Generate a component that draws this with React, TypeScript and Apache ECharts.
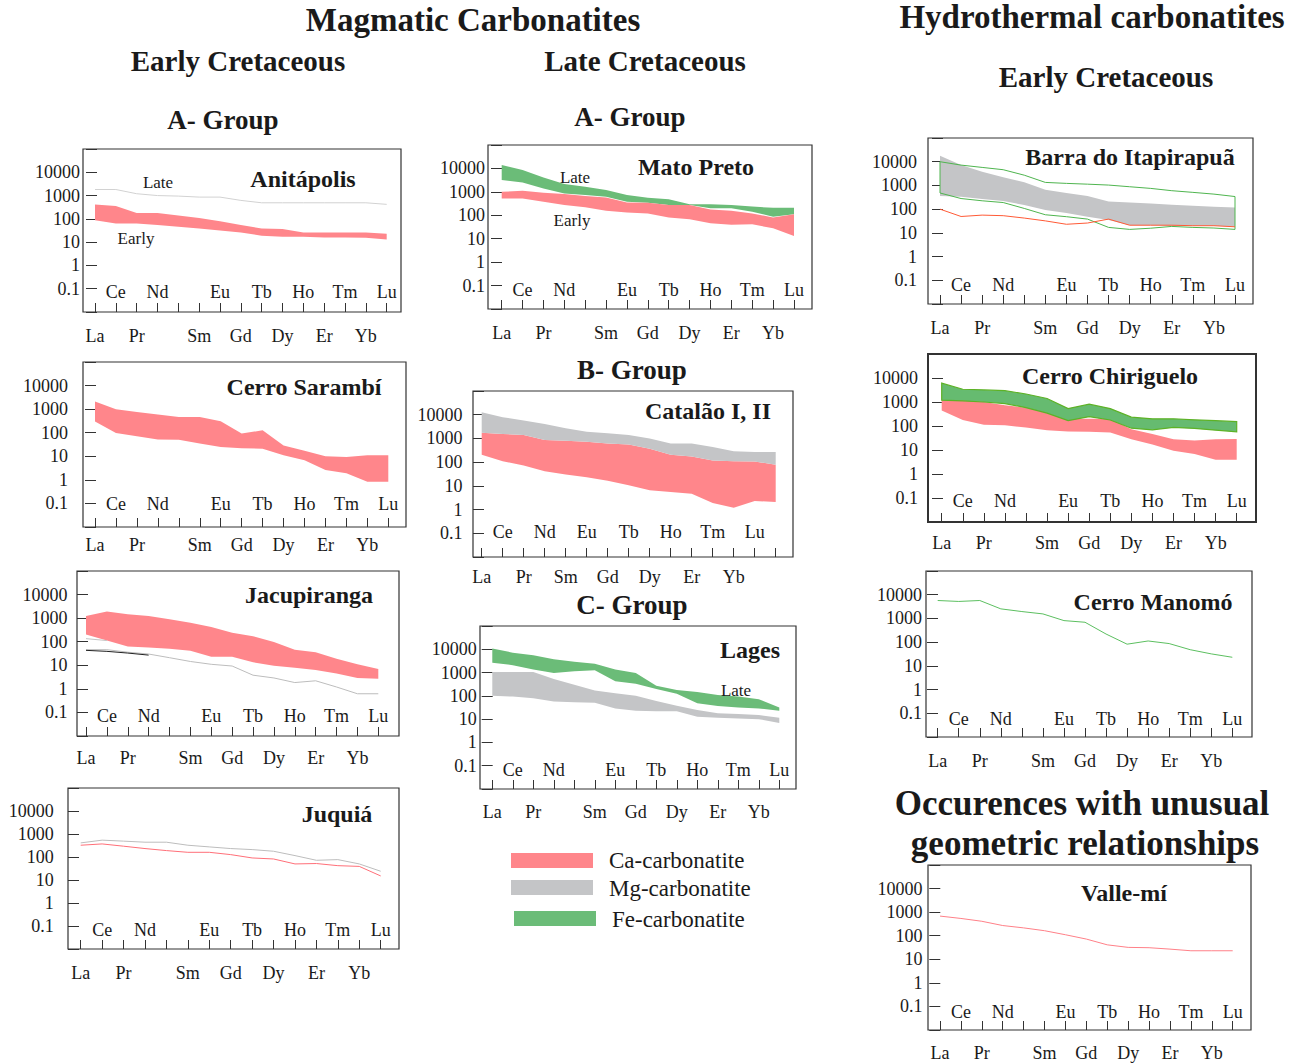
import React, { useEffect, useRef } from 'react';
import * as echarts from 'echarts';

// ---------- categories / tick labels ----------
const REE = ['La', 'Ce', 'Pr', 'Nd', 'Pm', 'Sm', 'Eu', 'Gd', 'Tb', 'Dy', 'Ho', 'Er', 'Tm', 'Yb', 'Lu'];
const REE_CATALAO = ['La', 'Ce', 'Pr', 'Nd', 'Sm', 'Eu', 'Gd', 'Tb', 'Dy', 'Ho', 'Er', 'Tm', 'Yb', 'Lu', ''];
const INNER_STD = ['', 'Ce', '', 'Nd', '', '', 'Eu', '', 'Tb', '', 'Ho', '', 'Tm', '', 'Lu'];
const OUTER_STD = ['La', '', 'Pr', '', '', 'Sm', '', 'Gd', '', 'Dy', '', 'Er', '', 'Yb', ''];
const INNER_CAT = ['', 'Ce', '', 'Nd', '', 'Eu', '', 'Tb', '', 'Ho', '', 'Tm', '', 'Lu', ''];
const OUTER_CAT = ['La', '', 'Pr', '', 'Sm', '', 'Gd', '', 'Dy', '', 'Er', '', 'Yb', '', ''];
const Y_TICK_LABELS = ['0.1', '1', '10', '100', '1000', '10000'];

// ---------- series values (chondrite-normalised) ----------
const ANITAPOLIS_LATE = [1820, 1820, 1200, 1000, 950, 860, 860, 620, 490, 490, 490, 490, 490, 490, 420];
const ANITAPOLIS_CA_HI = [410, 355, 180, 180, 140, 110, 79, 54, 39, 37, 26, 26, 26, 26, 23];
const ANITAPOLIS_CA_LO = [87, 63, 63, 54, 46, 39, 32, 26, 19, 17, 17, 16, 16, 15.5, 13];

const MATO_FE_HI = [13900, 8500, 4150, 2150, 1650, 1200, 730, 560, 480, 295, 295, 275, 235, 210, 210];
const MATO_FE_LO = [3200, 2530, 1400, 860, 730, 620, 380, 345, 275, 275, 200, 200, 140, 87, 110];
const MATO_CA_HI = [1000, 1120, 910, 810, 660, 580, 355, 345, 275, 275, 178, 158, 120, 80, 110];
const MATO_CA_LO = [525, 525, 380, 275, 220, 158, 130, 120, 80, 67, 46, 39, 41, 28, 13];

const BARRA_MG_HI = [17800, 7200, 3800, 2200, 1350, 660, 480, 360, 210, 190, 175, 152, 138, 125, 118];
const BARRA_MG_LO = [360, 330, 270, 220, 150, 93, 68, 48, 35, 21, 21, 20, 20, 20, 18];
const BARRA_FE_HI = [10000, 7200, 5750, 4600, 2700, 1340, 1220, 1130, 1035, 880, 750, 600, 510, 430, 340];
const BARRA_FE_LO = [480, 280, 225, 190, 107, 58, 48, 38, 17, 14, 15.7, 18.7, 17, 16, 14];
const BARRA_CA = [100, 49, 56, 53, 42, 32, 23, 26, 38, 21, 21, 21, 20, 20, 18];

const SARAMBI_CA_HI = [2100, 980, 750, 590, 460, 460, 310, 92, 126, 29, 17, 10, 9.3, 11, 11];
const SARAMBI_CA_LO = [300, 97, 71, 52, 50, 35, 25, 22, 21, 11, 6.8, 2.6, 1.9, 0.83, 0.83];

const CATALAO_MG_HI = [12600, 7900, 5700, 4100, 2700, 1930, 1640, 1390, 1000, 610, 610, 440, 285, 270, 270];
const CATALAO_MG_LO = [1750, 1540, 1390, 850, 800, 720, 610, 550, 370, 205, 175, 118, 110, 107, 77];
const CATALAO_CA_HI = [1750, 1540, 1390, 850, 800, 720, 610, 550, 370, 205, 175, 118, 110, 107, 77];
const CATALAO_CA_LO = [205, 110, 72, 41, 30, 23, 16.5, 10.7, 6.5, 5.5, 4.7, 1.9, 1.2, 2.3, 2.1];

const CHIRIGUELO_FE_HI = [6100, 3400, 3200, 2970, 2150, 1400, 530, 810, 530, 234, 200, 200, 180, 167, 152];
const CHIRIGUELO_FE_LO = [1200, 1120, 1000, 860, 580, 345, 167, 245, 178, 81, 69, 87, 79, 67, 57];
const CHIRIGUELO_CA_HI = [2300, 1200, 1000, 730, 580, 380, 200, 200, 200, 74, 46, 28, 25, 28, 29];
const CHIRIGUELO_CA_LO = [445, 178, 112, 107, 87, 67, 59, 57, 54, 28, 17, 9.4, 6.8, 3.9, 3.9];

const JACUPIRANGA_CA_HI = [1240, 1900, 1470, 1240, 890, 640, 420, 240, 171, 98, 46, 36, 19, 11, 6.9];
const JACUPIRANGA_CA_LO = [200, 112, 63, 57, 50, 41, 23, 23, 13.5, 9.6, 7.9, 6.3, 4.5, 2.9, 2.7];
const JACUPIRANGA_MG_A = [135, 112, null, null, null, null, null, null, null, null, null, null, null, null, null];
const JACUPIRANGA_MG_B = [46, 46, 36, 30, 21, 14.5, 11, 9.3, 3.8, 2.9, 1.85, 2.2, 1.2, 0.62, 0.62];
const JACUPIRANGA_BLACK = [43, 39, 33, 27, null, null, null, null, null, null, null, null, null, null, null];

const LAGES_FE_HI = [10700, 7150, 5500, 3700, 2900, 2380, 1350, 970, 270, 180, 145, 110, 93, 72, 32];
const LAGES_FE_LO = [2630, 2080, 1350, 970, 1150, 1260, 420, 330, 195, 123, 48, 37, 32, 29, 23];
const LAGES_MG_HI = [1070, 1070, 1070, 530, 300, 170, 130, 100, 60, 38, 25, 18, 16.6, 15, 11.4];
const LAGES_MG_LO = [100, 93, 79, 57, 53, 51, 29, 23, 22, 22, 12.6, 11.4, 10.7, 10, 6.9];

const MANOMO_FE = [5700, 5200, 5700, 2530, 1950, 1550, 810, 690, 220, 82, 112, 87, 48, 32, 23];
const JUQUIA_MG = [410, 540, 490, 440, 440, 325, 275, 233, 210, 178, 115, 72, 77, 50, 24];
const JUQUIA_CA = [325, 370, 295, 233, 190, 160, 160, 127, 91, 82, 50, 52, 42, 39, 15];
const VALLEMI_CA = [680, 540, 410, 270, 215, 163, 110, 72, 41, 32, 31, 27, 23, 23, 23];

const LEGEND_ITEMS = ['Ca-carbonatite', 'Mg-carbonatite', 'Fe-carbonatite'];

// ---------- styles ----------
const FONT = "'Liberation Serif', 'Times New Roman', serif";
const CA_FILL = '#FF868B';
const MG_FILL = '#C4C5C7';
const FE_FILL = '#6BBC78';
const TEXT = '#1a1a1a';
const AXIS_FONT = 18;

// panel layout (pixels): box [l,t,r,b], La & Lu tick x, label gaps
const PANELS = [
  { title: 'Anitápolis', tx: 303, ty: 179, box: [83, 149, 401, 312], la: 95, lu: 386.7, inner: 20, outer: 23.7, ts: 3, lg: 3 },
  { title: 'Mato Preto', tx: 696, ty: 167, box: [488, 145, 812, 309], la: 501.7, lu: 794, inner: 18.6, outer: 24, ts: 3, lg: 3 },
  { title: 'Barra do Itapirapuã', tx: 1130, ty: 157, box: [928, 138, 1253, 304], la: 940, lu: 1235, inner: 18.6, outer: 24, ts: 4, lg: 11 },
  { title: 'Cerro Sarambí', tx: 304, ty: 387, box: [83, 362, 406, 527], la: 95, lu: 388.3, inner: 23, outer: 18.3, ts: 2, lg: 15 },
  { title: 'Catalão I, II', tx: 708, ty: 411, box: [473, 391, 793, 557], la: 481.7, lu: 775.7, inner: 25, outer: 20, ts: 0, lg: 10.6, cat: true },
  { title: 'Cerro Chiriguelo', tx: 1110, ty: 376, box: [928, 354, 1256, 522], la: 941.7, lu: 1236.7, inner: 21, outer: 21, ts: 4, lg: 10, thick: true },
  { title: 'Jacupiranga', tx: 309, ty: 595, box: [77, 571, 399, 736], la: 86, lu: 378.3, inner: 20, outer: 21.7, ts: 0, lg: 9.4 },
  { title: 'Lages', tx: 750, ty: 650, box: [480, 626, 796, 789], la: 492.3, lu: 779.3, inner: 18.6, outer: 23.4, ts: 1.7, lg: 3.3 },
  { title: 'Cerro Manomó', tx: 1153, ty: 602, box: [926, 571, 1252, 737], la: 937.7, lu: 1232.3, inner: 18.4, outer: 24, ts: 1, lg: 4 },
  { title: 'Juquiá', tx: 337, ty: 814, box: [68, 788, 399, 949], la: 80.7, lu: 380.7, inner: 18.6, outer: 24, ts: 0, lg: 14.3 },
  { title: 'Valle-mí', tx: 1124, ty: 893, box: [928, 865, 1251, 1030], la: 940, lu: 1232.7, inner: 18.3, outer: 23.3, ts: 1.3, lg: 5.4 },
];

const yFmt = (v: number) => {
  const k = Math.log10(v);
  const r = Math.round(k);
  if (Math.abs(k - r) > 1e-6 || r < -1 || r > 4) return '';
  return Y_TICK_LABELS[r + 1];
};

function bandSeries(panel: number, name: string, lo: number[], hi: number[], fill: string, stroke?: string, lw?: number) {
  const data = lo.map((v, i) => [i, v, hi[i]]);
  return {
    type: 'custom',
    name,
    xAxisIndex: panel * 2,
    yAxisIndex: panel,
    data,
    silent: true,
    itemStyle: { color: fill === 'none' ? stroke : fill },
    encode: { x: 0, y: [1, 2] },
    renderItem: (params: any, api: any) => {
      if (params.dataIndex !== 0) return null;
      const upper = data.map((d) => api.coord([d[0], d[2]]));
      const lower = data.map((d) => api.coord([d[0], d[1]])).reverse();
      return {
        type: 'polygon',
        shape: { points: upper.concat(lower) },
        style: { fill, stroke: stroke || 'none', lineWidth: lw || 0 },
      };
    },
  };
}

function lineSeries(panel: number, name: string, vals: (number | null)[], color: string, width = 1) {
  return {
    type: 'line',
    name,
    xAxisIndex: panel * 2,
    yAxisIndex: panel,
    data: vals,
    symbol: 'none',
    silent: true,
    connectNulls: false,
    lineStyle: { color, width },
    z: 3,
  };
}

function txt(text: string, x: number, y: number, size: number, bold: boolean, align = 'center') {
  return {
    type: 'text',
    x,
    y,
    z: 50,
    silent: true,
    style: {
      text,
      font: `${bold ? 'bold ' : ''}${size}px ${FONT}`,
      fill: TEXT,
      textAlign: align,
      textVerticalAlign: 'middle',
    },
  };
}

function buildOption() {
  const grids: any[] = [];
  const xAxes: any[] = [];
  const yAxes: any[] = [];
  const graphics: any[] = [];

  PANELS.forEach((p, i) => {
    const [l, t, r, b] = p.box;
    const band = (p.lu - p.la) / 14;
    const gl = p.la - band / 2;
    grids.push({ left: gl, top: t, width: band * 15, height: b - t });
    const cats = p.cat ? REE_CATALAO : REE;
    const inner = p.cat ? INNER_CAT : INNER_STD;
    const outer = p.cat ? OUTER_CAT : OUTER_STD;
    const labelBase = { fontSize: AXIS_FONT, fontFamily: FONT, color: TEXT, interval: 0 };
    xAxes.push({
      type: 'category', gridIndex: i, position: 'bottom', data: cats, boundaryGap: true,
      axisLine: { show: false }, splitLine: { show: false },
      axisTick: { show: true, inside: true, alignWithLabel: true, interval: 0, length: 9, lineStyle: { color: '#333', width: 1 } },
      axisLabel: { ...labelBase, show: true, inside: true, margin: p.inner - AXIS_FONT / 2, formatter: (_v: any, idx: number) => inner[idx] },
    });
    xAxes.push({
      type: 'category', gridIndex: i, position: 'bottom', data: cats, boundaryGap: true,
      axisLine: { show: false }, splitLine: { show: false }, axisTick: { show: false },
      axisLabel: { ...labelBase, show: true, inside: false, margin: p.outer - AXIS_FONT / 2, formatter: (_v: any, idx: number) => outer[idx] },
    });
    const axisX = l + p.ts;
    yAxes.push({
      type: 'log', logBase: 10, gridIndex: i, min: 0.01, max: 100000, splitNumber: 7,
      position: 'left', offset: gl - axisX,
      axisLine: { show: false }, splitLine: { show: false },
      axisTick: { show: true, inside: true, length: 11, lineStyle: { color: '#333', width: 1 } },
      axisLabel: { margin: p.ts + p.lg, fontSize: AXIS_FONT, fontFamily: FONT, color: TEXT, formatter: yFmt },
    });
    graphics.push({
      type: 'rect', z: 40, silent: true,
      shape: { x: l, y: t, width: r - l, height: b - t },
      style: { fill: 'none', stroke: '#333', lineWidth: p.thick ? 2 : 1.2 },
    });
    graphics.push(txt(p.title, p.tx, p.ty, 24, true));
  });

  // headings
  graphics.push(txt('Magmatic Carbonatites', 473, 20, 33, true));
  graphics.push(txt('Hydrothermal carbonatites', 1092, 17, 33, true));
  graphics.push(txt('Early Cretaceous', 238, 61, 29, true));
  graphics.push(txt('Late Cretaceous', 645, 61, 29, true));
  graphics.push(txt('Early Cretaceous', 1106, 77, 29, true));
  graphics.push(txt('A- Group', 223, 120, 27, true));
  graphics.push(txt('A- Group', 630, 117, 27, true));
  graphics.push(txt('B- Group', 632, 370, 27, true));
  graphics.push(txt('C- Group', 632, 605, 27, true));
  graphics.push(txt('Occurences with unusual', 1082, 803, 35, true));
  graphics.push(txt('geometric relationships', 1085, 843, 35, true));

  // in-panel annotations
  graphics.push(txt('Late', 158, 182, 17, false));
  graphics.push(txt('Early', 136, 238, 17, false));
  graphics.push(txt('Late', 575, 177, 17, false));
  graphics.push(txt('Early', 572, 220, 17, false));
  graphics.push(txt('Late', 736, 690, 17, false));

  // legend
  const legendColors = [CA_FILL, MG_FILL, FE_FILL];
  const legendRects = [[511, 853], [511, 880], [514, 911]];
  const legendText = [[609, 860], [609, 888], [612, 919]];
  LEGEND_ITEMS.forEach((name, k) => {
    graphics.push({
      type: 'rect', z: 40, silent: true,
      shape: { x: legendRects[k][0], y: legendRects[k][1], width: 82, height: 15 },
      style: { fill: legendColors[k] },
    });
    graphics.push(txt(name, legendText[k][0], legendText[k][1], 23, false, 'left'));
  });

  const series: any[] = [
    // 0 Anitápolis
    lineSeries(0, 'Late (Mg)', ANITAPOLIS_LATE, '#D2D2D2'),
    bandSeries(0, 'Ca-carbonatite', ANITAPOLIS_CA_LO, ANITAPOLIS_CA_HI, CA_FILL),
    // 1 Mato Preto
    bandSeries(1, 'Fe-carbonatite', MATO_FE_LO, MATO_FE_HI, FE_FILL),
    bandSeries(1, 'Ca-carbonatite', MATO_CA_LO, MATO_CA_HI, CA_FILL),
    // 2 Barra do Itapirapuã
    bandSeries(2, 'Mg-carbonatite', BARRA_MG_LO, BARRA_MG_HI, MG_FILL),
    bandSeries(2, 'Fe-carbonatite field', BARRA_FE_LO, BARRA_FE_HI, 'none', '#4FB54F', 1),
    lineSeries(2, 'Ca-carbonatite sample', BARRA_CA, '#FF5A36'),
    // 3 Cerro Sarambí
    bandSeries(3, 'Ca-carbonatite', SARAMBI_CA_LO, SARAMBI_CA_HI, CA_FILL),
    // 4 Catalão
    bandSeries(4, 'Ca-carbonatite', CATALAO_CA_LO, CATALAO_CA_HI, CA_FILL),
    bandSeries(4, 'Mg-carbonatite', CATALAO_MG_LO, CATALAO_MG_HI, MG_FILL),
    // 5 Cerro Chiriguelo
    bandSeries(5, 'Ca-carbonatite', CHIRIGUELO_CA_LO, CHIRIGUELO_CA_HI, CA_FILL),
    bandSeries(5, 'Fe-carbonatite', CHIRIGUELO_FE_LO, CHIRIGUELO_FE_HI, '#66BB70', '#5DB226', 1.2),
    // 6 Jacupiranga
    lineSeries(6, 'Mg-carbonatite A', JACUPIRANGA_MG_A, '#C4C4C4'),
    lineSeries(6, 'Mg-carbonatite B', JACUPIRANGA_MG_B, '#BDBDBD'),
    lineSeries(6, 'Sample', JACUPIRANGA_BLACK, '#222222'),
    bandSeries(6, 'Ca-carbonatite', JACUPIRANGA_CA_LO, JACUPIRANGA_CA_HI, CA_FILL),
    // 7 Lages
    bandSeries(7, 'Mg-carbonatite', LAGES_MG_LO, LAGES_MG_HI, MG_FILL),
    bandSeries(7, 'Fe-carbonatite', LAGES_FE_LO, LAGES_FE_HI, FE_FILL),
    // 8 Cerro Manomó
    lineSeries(8, 'Fe-carbonatite sample', MANOMO_FE, '#5CBF60'),
    // 9 Juquiá
    lineSeries(9, 'Mg-carbonatite sample', JUQUIA_MG, '#BDBDBD'),
    lineSeries(9, 'Ca-carbonatite sample', JUQUIA_CA, '#FF6F78'),
    // 10 Valle-mí
    lineSeries(10, 'Ca-carbonatite sample', VALLEMI_CA, '#FF8088'),
  ];

  return {
    animation: false,
    backgroundColor: '#ffffff',
    textStyle: { fontFamily: FONT },
    grid: grids,
    xAxis: xAxes,
    yAxis: yAxes,
    series,
    graphic: graphics,
  };
}

export default function App() {
  const ref = useRef<HTMLDivElement>(null);
  useEffect(() => {
    document.body.style.margin = '0';
    const chart = echarts.init(ref.current as HTMLDivElement, null, { renderer: 'svg' });
    chart.setOption(buildOption() as any);
    return () => chart.dispose();
  }, []);
  return <div ref={ref} style={{ width: 1295, height: 1063 }} />;
}
